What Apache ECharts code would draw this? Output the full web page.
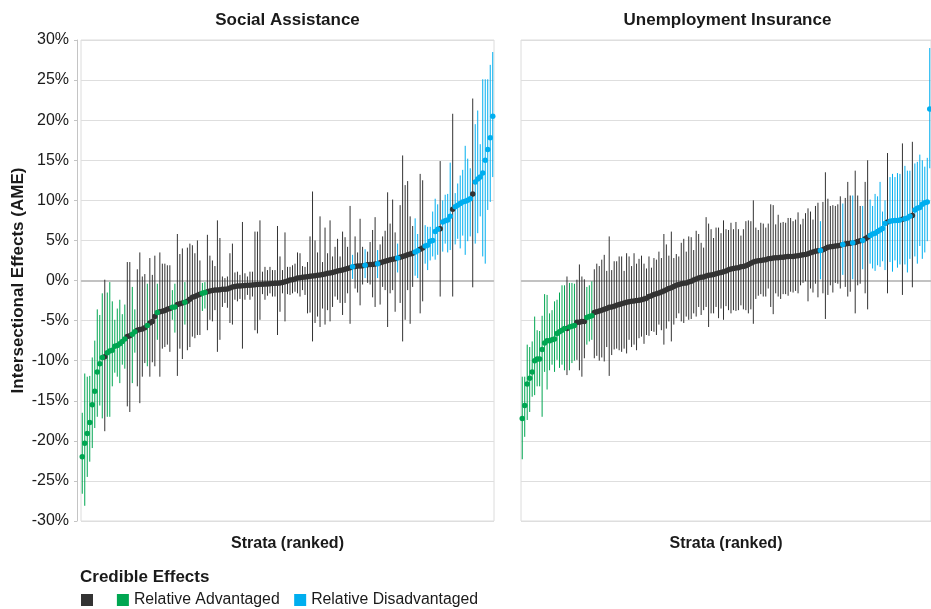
<!DOCTYPE html>
<html>
<head>
<meta charset="utf-8">
<script src="https://cdn.jsdelivr.net/npm/echarts/dist/echarts.min.js"></script>
<style>
  html, body { margin: 0; padding: 0; background: #ffffff; }
  #chart { width: 931px; height: 609px; }
</style>
</head>
<body>
<div id="chart"></div>
<script>
// Ranked intersectional strata: average marginal effect (%) with interval bounds.
// Social Assistance
const saEst = [
  -22.0,-20.3,-19.1,-17.7,-15.5,-13.8,-11.4,-10.4,-9.6,-9.5,
  -9.0,-8.8,-8.7,-8.2,-8.1,-7.9,-7.6,-7.3,-7.0,-6.9,
  -6.7,-6.4,-6.2,-6.1,-6.05,-5.9,-5.6,-5.3,-5.1,-4.5,
  -4.0,-3.9,-3.85,-3.75,-3.6,-3.5,-3.35,-3.3,-3.0,-2.9,
  -2.8,-2.7,-2.6,-2.35,-2.1,-2.0,-1.85,-1.7,-1.6,-1.5,
  -1.4,-1.3,-1.25,-1.2,-1.2,-1.15,-1.1,-1.1,-1.05,-0.95,
  -0.8,-0.75,-0.7,-0.68,-0.65,-0.63,-0.6,-0.58,-0.55,-0.53,
  -0.5,-0.48,-0.46,-0.45,-0.43,-0.4,-0.38,-0.35,-0.33,-0.3,
  -0.25,-0.15,-0.05,0.05,0.1,0.2,0.3,0.35,0.4,0.45,
  0.48,0.52,0.55,0.6,0.65,0.7,0.75,0.82,0.9,0.95,
  1.0,1.1,1.2,1.25,1.3,1.4,1.5,1.6,1.7,1.75,
  1.8,1.8,1.85,1.9,1.95,2.0,2.0,2.05,2.1,2.2,
  2.3,2.4,2.5,2.6,2.65,2.7,2.8,2.9,3.0,3.1,
  3.2,3.3,3.4,3.55,3.7,3.9,4.05,4.3,4.4,4.9,
  5.0,6.1,6.4,6.45,7.3,7.45,7.55,8.0,8.9,9.2,
  9.4,9.6,9.8,9.9,10.0,10.2,10.8,12.3,12.65,12.9,
  13.4,15.0,16.35,17.8,20.5
];
const saLo = [
  -26.6,-28.1,-24.5,-22.6,-20.9,-18.4,-17.0,-15.6,-17.2,-18.8,
  -17.0,-17.0,-13.2,-11.5,-12.0,-12.8,-10.5,-11.0,-15.7,-16.4,
  -12.8,-9.0,-13.2,-15.3,-12.0,-10.3,-10.7,-12.0,-10.2,-10.7,
  -7.4,-12.0,-8.5,-8.3,-8.0,-8.9,-4.9,-6.5,-11.9,-8.5,
  -9.8,-5.5,-8.7,-8.3,-7.0,-7.2,-6.8,-6.8,-3.8,-3.5,
  -6.2,-4.9,-5.1,-3.7,-8.9,-7.4,-3.3,-2.8,-3.4,-5.3,
  -5.5,-2.4,-2.6,-2.3,-8.5,-2.4,-1.8,-2.4,-2.0,-6.2,
  -6.6,-4.9,-1.7,-2.4,-1.9,-1.6,-2.0,-2.0,-6.8,-3.9,
  -1.6,-5.1,-1.7,-1.8,-1.6,-1.4,-1.6,-2.0,-1.2,-1.8,
  -4.1,-4.0,-7.6,-5.3,-4.5,-5.8,-3.5,-5.5,-3.7,-5.1,
  -3.3,-2.0,-2.4,-2.8,-4.3,-2.8,-1.6,-5.4,0.2,-1.0,
  -1.5,-3.1,-0.5,0.3,-0.3,-0.5,-2.1,-3.3,0.3,-3.0,
  -0.8,-1.2,-5.8,-1.6,-1.2,-3.9,1.0,-2.8,-7.6,-4.9,
  -1.2,-5.4,-0.8,0.6,0.3,-4.1,-2.6,2.1,1.3,2.5,
  3.0,2.6,3.2,-2.0,3.6,4.6,3.5,3.8,-2.0,4.5,
  5.2,4.0,5.6,3.2,4.9,5.5,-0.85,4.6,5.9,8.0,
  3.0,2.1,8.8,9.8,12.9
];
const saHi = [
  -16.5,-11.6,-12.0,-11.9,-9.6,-7.5,-3.6,-4.3,-1.6,0.1,
  -1.5,-0.2,-2.6,-4.9,-3.5,-2.4,-4.2,-3.0,2.3,2.3,
  -0.8,-3.6,1.4,3.5,0.5,0.8,-0.4,2.8,0.7,3.1,
  -0.4,3.5,2.1,2.1,1.9,1.9,-1.2,-0.4,5.8,3.3,
  4.0,-0.2,4.1,4.6,4.4,3.4,5.0,2.5,-0.3,-0.2,
  5.7,3.1,2.5,1.8,7.5,5.3,0.5,0.3,0.5,3.4,
  4.6,1.0,1.1,0.7,7.3,0.9,0.5,1.1,1.1,6.1,
  6.1,7.5,1.1,1.7,1.3,1.7,1.3,1.3,6.8,3.0,
  1.3,6.0,1.7,1.7,1.9,2.1,3.5,3.4,1.8,1.7,
  2.3,5.5,11.1,5.0,3.5,8.0,2.3,6.6,3.4,7.5,
  3.0,4.2,5.2,3.0,6.1,5.4,4.2,9.3,3.2,5.5,
  3.5,7.7,4.2,3.9,3.6,4.8,6.3,7.9,3.8,4.5,
  5.5,6.2,11.0,7.1,10.1,6.0,4.6,9.4,15.6,11.9,
  12.4,8.0,6.8,7.75,5.8,13.3,12.5,6.9,6.7,6.7,
  8.6,10.2,9.5,14.9,10.0,10.7,10.8,14.7,20.8,10.9,
  12.1,13.1,13.8,16.8,15.2,14.0,22.7,19.5,21.2,17.0,
  25.1,25.1,25.1,26.9,28.5
];

// Unemployment Insurance
const uiEst = [
  -17.2,-15.6,-12.9,-12.2,-11.4,-10.0,-9.8,-9.8,-8.6,-7.8,
  -7.5,-7.5,-7.4,-7.3,-6.6,-6.4,-6.2,-6.0,-6.0,-5.8,
  -5.7,-5.6,-5.2,-5.2,-5.1,-5.1,-4.6,-4.5,-4.4,-4.0,
  -3.9,-3.8,-3.7,-3.6,-3.5,-3.35,-3.3,-3.2,-3.1,-3.0,
  -2.9,-2.8,-2.7,-2.65,-2.6,-2.55,-2.5,-2.45,-2.4,-2.3,
  -2.2,-2.0,-1.9,-1.75,-1.65,-1.55,-1.45,-1.3,-1.15,-1.0,
  -0.9,-0.75,-0.6,-0.5,-0.4,-0.35,-0.3,-0.2,-0.1,0.05,
  0.2,0.3,0.4,0.45,0.55,0.65,0.7,0.75,0.85,0.95,
  1.0,1.1,1.2,1.35,1.45,1.5,1.55,1.6,1.7,1.75,
  1.85,2.0,2.15,2.3,2.4,2.45,2.5,2.55,2.6,2.7,
  2.75,2.8,2.85,2.85,2.9,2.9,2.95,3.0,3.0,3.0,
  3.05,3.1,3.15,3.2,3.25,3.35,3.45,3.55,3.65,3.7,
  3.75,3.85,4.0,4.15,4.2,4.25,4.3,4.35,4.4,4.5,
  4.55,4.6,4.65,4.7,4.75,4.85,4.95,5.0,5.2,5.4,
  5.6,5.8,5.9,6.1,6.3,6.5,7.1,7.3,7.4,7.45,
  7.5,7.5,7.55,7.65,7.7,7.8,8.0,8.1,8.8,9.0,
  9.1,9.5,9.7,9.8,21.4
];
const uiLo = [
  -22.3,-19.5,-17.4,-16.4,-14.5,-14.3,-13.2,-13.2,-17.0,-11.4,
  -13.6,-11.2,-10.5,-11.4,-9.9,-10.9,-10.5,-11.2,-11.8,-11.2,
  -10.3,-10.0,-9.9,-11.2,-12.0,-9.7,-8.0,-7.6,-7.4,-9.7,
  -9.4,-10.0,-9.6,-10.1,-8.3,-11.9,-9.3,-8.6,-8.5,-8.7,
  -8.9,-8.5,-9.1,-7.4,-8.3,-8.0,-8.7,-7.2,-7.0,-7.9,
  -6.8,-6.9,-6.3,-6.4,-6.8,-5.5,-6.2,-8.0,-6.0,-5.1,
  -7.6,-5.5,-4.7,-4.1,-5.1,-5.3,-4.5,-4.9,-4.8,-4.1,
  -4.5,-3.3,-4.3,-3.7,-3.3,-5.8,-4.1,-4.1,-3.3,-4.7,
  -3.5,-4.9,-3.2,-3.7,-4.1,-3.7,-3.8,-3.7,-3.1,-3.6,
  -3.7,-4.1,-3.6,-5.4,-2.3,-1.9,-1.7,-2.0,-2.0,-1.0,
  -3.3,-4.2,-1.6,-2.0,-2.3,-1.7,-1.7,-1.9,-1.4,-1.5,
  -1.3,-1.6,-0.6,-0.3,-0.1,-2.6,-1.0,-1.5,-0.4,-2.1,
  0.15,-1.6,-4.8,-1.8,-0.6,-1.5,-0.3,-0.4,-1.0,0.7,
  -0.8,-2.0,-1.4,0.15,-4.1,-0.6,-0.4,1.4,-1.6,-3.6,
  2.1,1.5,1.2,1.9,1.7,2.4,1.3,-1.6,2.3,1.1,
  2.5,1.6,2.0,-1.8,2.0,1.0,2.7,-0.85,3.0,2.1,
  4.3,2.7,3.5,4.9,14.0
];
const uiHi = [
  -12.0,-12.0,-8.0,-8.3,-7.6,-4.5,-6.2,-6.3,-4.4,-1.7,
  -1.8,-4.1,-3.7,-2.6,-2.4,-1.5,-0.6,-0.6,0.5,-0.3,
  -0.3,-0.4,0.1,2.0,0.5,0.15,-0.8,-0.6,-0.1,1.4,
  2.1,1.8,2.6,3.2,1.2,5.5,1.3,2.4,2.4,3.0,
  3.0,1.2,3.4,3.0,1.8,3.4,2.1,2.7,3.1,2.1,
  1.5,3.0,1.6,2.8,2.6,3.6,2.8,5.8,4.5,3.1,
  6.1,2.8,3.3,3.0,4.7,5.2,3.6,5.5,5.4,3.8,
  6.2,5.8,4.7,4.1,7.9,7.1,6.4,5.3,6.6,6.6,
  5.9,7.5,6.4,6.3,7.2,6.4,7.3,6.4,5.6,6.4,
  7.4,7.5,7.4,10.0,6.6,6.3,7.2,7.1,6.6,7.1,
  9.5,9.4,7.0,8.2,7.2,7.3,7.2,7.8,7.8,7.4,
  7.6,8.5,7.0,7.7,8.4,9.0,8.6,7.6,9.3,9.7,
  7.4,9.8,13.5,10.2,9.3,9.4,9.3,9.5,10.5,9.6,
  10.3,12.3,10.6,10.6,13.7,10.6,9.3,9.3,12.3,15.0,
  10.1,9.3,10.8,10.5,12.3,8.6,10.0,15.9,12.9,13.3,
  12.9,13.4,13.3,17.1,14.3,13.7,13.7,17.3,14.6,14.8,
  15.7,15.0,14.2,15.3,29.0
];

const panelTitles = ['Social Assistance', 'Unemployment Insurance'];
const yTicks = { min: -30, max: 30, step: 5 };

const FONT = '"Liberation Sans", Arial, Helvetica, sans-serif';
const TEXT = '#1a1a1a';

// Credibility: interval entirely below zero = relatively advantaged,
// entirely above zero = relatively disadvantaged, otherwise not credible.
const GROUPS = [
  { key: 'n', name: ' ', color: '#333333' },
  { key: 'a', name: 'Relative Advantaged', color: '#00a651' },
  { key: 'd', name: 'Relative Disadvantaged', color: '#00aeef' }
];
function credibility(lo, hi) {
  if (hi < 0) return 'a';
  if (lo > 0) return 'd';
  return 'n';
}

const panels = [
  { est: saEst, lo: saLo, hi: saHi },
  { est: uiEst, lo: uiLo, hi: uiHi }
];

const plotW = 413, plotH = 481, plotTop = 40;
const gridLefts = [81, 521];

function renderInterval(params, api) {
  const x = api.value(0);
  const a = api.coord([x, api.value(1)]);
  const b = api.coord([x, api.value(2)]);
  return {
    type: 'line',
    shape: { x1: a[0], y1: a[1], x2: b[0], y2: b[1] },
    style: { stroke: api.visual('color'), lineWidth: 1 }
  };
}

const grid = [], xAxis = [], yAxis = [], series = [];

panels.forEach((pn, p) => {
  const ranks = pn.est.map((_, i) => String(i + 1));
  grid.push({
    left: gridLefts[p], top: plotTop, width: plotW, height: plotH,
    show: true, borderColor: '#dcdcdc', borderWidth: 1, backgroundColor: 'transparent'
  });
  xAxis.push({
    gridIndex: p, type: 'category', data: ranks, boundaryGap: true,
    axisLine: { show: false }, axisTick: { show: false }, axisLabel: { show: false },
    splitLine: { show: false },
    name: 'Strata (ranked)', nameLocation: 'middle', nameGap: 15,
    nameTextStyle: { fontFamily: FONT, fontSize: 16, fontWeight: 'bold', color: TEXT }
  });
  yAxis.push({
    gridIndex: p, type: 'value', min: yTicks.min, max: yTicks.max, interval: yTicks.step,
    offset: p === 0 ? 4 : 0,
    axisLine: { show: p === 0, lineStyle: { color: '#c4c4c4', width: 1 } },
    axisTick: { show: p === 0, length: 3, lineStyle: { color: '#c4c4c4' } },
    axisLabel: {
      show: p === 0, formatter: '{value}%', fontFamily: FONT, fontSize: 16,
      color: TEXT, margin: 8
    },
    splitLine: { show: true, lineStyle: { color: '#dedede', width: 1 } },
    name: p === 0 ? 'Intersectional Effects (AME)' : '',
    nameLocation: 'middle', nameGap: 50, nameRotate: 90,
    nameTextStyle: { fontFamily: FONT, fontSize: 17, fontWeight: 'bold', color: TEXT }
  });

  // zero reference line
  series.push({
    type: 'line', xAxisIndex: p, yAxisIndex: p, data: [], silent: true,
    markLine: {
      silent: true, symbol: 'none', z: 1, animation: false,
      label: { show: false },
      lineStyle: { color: '#c2c2c2', width: 2, type: 'solid' },
      data: [{ yAxis: 0 }]
    }
  });

  GROUPS.forEach(g => {
    const bars = [], pts = [];
    pn.est.forEach((v, i) => {
      if (credibility(pn.lo[i], pn.hi[i]) !== g.key) return;
      bars.push([i, pn.lo[i], pn.hi[i]]);
      pts.push([i, v]);
    });
    series.push({
      type: 'custom', name: g.name, xAxisIndex: p, yAxisIndex: p,
      data: bars, renderItem: renderInterval, encode: { x: 0, y: [1, 2] },
      itemStyle: { color: g.color }, clip: true, silent: true, z: 2
    });
    series.push({
      type: 'scatter', name: g.name, xAxisIndex: p, yAxisIndex: p,
      data: pts, symbol: 'circle', symbolSize: 5.5,
      itemStyle: { color: g.color, opacity: 1 }, silent: true, z: 4
    });
  });
});

const chart = echarts.init(document.getElementById('chart'), null, { renderer: 'canvas' });
chart.setOption({
  animation: false,
  backgroundColor: '#ffffff',
  grid, xAxis, yAxis, series,
  legend: {
    data: GROUPS.map(g => g.name),
    left: 81, top: 592, padding: 0, itemWidth: 12, itemHeight: 12, itemGap: 14.5,
    icon: 'rect', selectedMode: false,
    textStyle: { fontFamily: FONT, fontSize: 15.8, color: TEXT }
  },
  graphic: [
    {
      type: 'text', x: gridLefts[0] + plotW / 2, y: 20,
      style: { text: panelTitles[0], font: 'bold 17px ' + FONT, fill: TEXT,
               textAlign: 'center', textVerticalAlign: 'middle', align: 'center', verticalAlign: 'middle' }
    },
    {
      type: 'text', x: gridLefts[1] + plotW / 2, y: 20,
      style: { text: panelTitles[1], font: 'bold 17px ' + FONT, fill: TEXT,
               textAlign: 'center', textVerticalAlign: 'middle', align: 'center', verticalAlign: 'middle' }
    },
    {
      type: 'text', x: 80, y: 577,
      style: { text: 'Credible Effects', font: 'bold 17px ' + FONT, fill: TEXT,
               textAlign: 'left', textVerticalAlign: 'middle', align: 'left', verticalAlign: 'middle' }
    }
  ]
});
</script>
</body>
</html>
